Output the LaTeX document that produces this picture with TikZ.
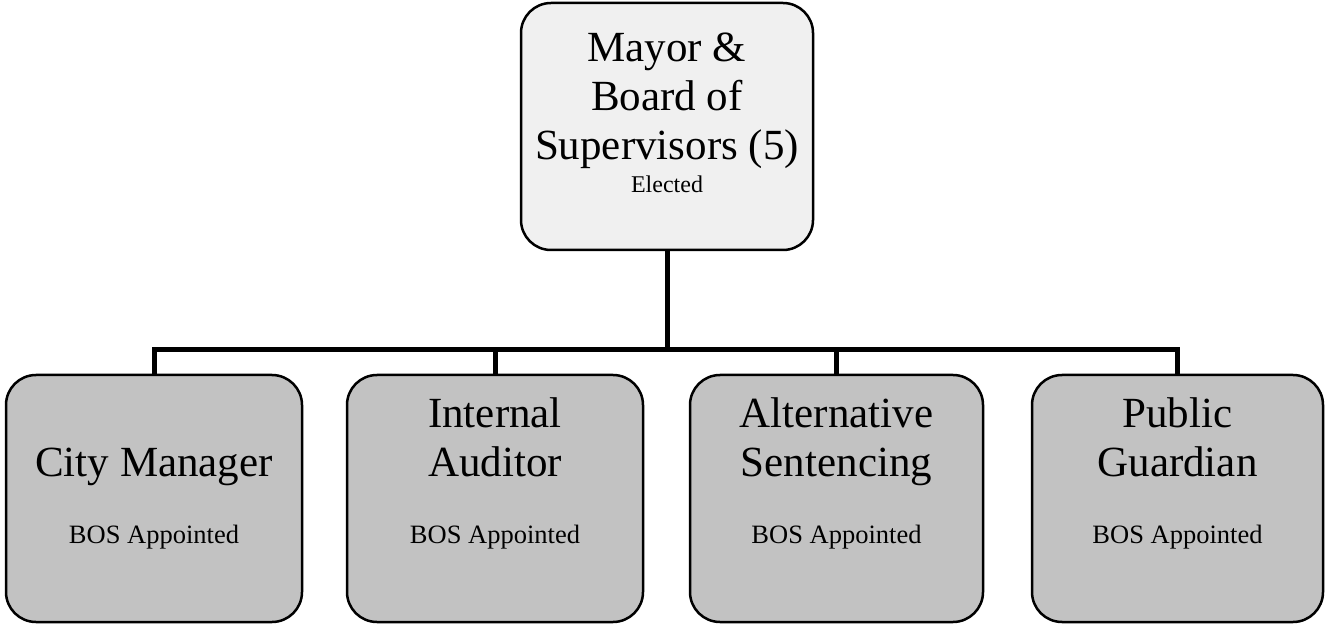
\documentclass[tikz,border=0pt]{standalone}
\usepackage{fontspec}
\setmainfont{Liberation Serif}
\begin{document}
\begin{tikzpicture}[x=1pt,y=1pt,
  orgbox/.style={draw=black, line width=2.5pt, rounded corners=30pt, inner sep=0pt,
                 minimum height=247pt},
  topfill/.style={fill=black!6},
  lowfill/.style={fill=black!24},
  title/.style={inner sep=0pt, anchor=base, font=\fontsize{43}{49}\selectfont},
  note/.style={inner sep=0pt, anchor=base, font=\fontsize{26.5}{30}\selectfont},
  small/.style={inner sep=0pt, anchor=base, font=\fontsize{24}{28}\selectfont},
  link/.style={line width=5pt}]
\useasboundingbox (0,0) rectangle (1327,624);

% boxes
\node[orgbox, topfill, minimum width=292pt] (mayor) at (667,497.5) {};
\node[orgbox, lowfill, minimum width=296pt] (city)  at (154,125.5) {};
\node[orgbox, lowfill, minimum width=296pt] (audit) at (495,125.5) {};
\node[orgbox, lowfill, minimum width=293pt] (alt)   at (836.5,125.5) {};
\node[orgbox, lowfill, minimum width=291pt] (pub)   at (1177.5,125.5) {};

% texts
\node[title] (mayort) at (667,464) {\begin{tabular}[b]{@{}c@{}}Mayor \&\\Board of\\Supervisors (5)\end{tabular}};
\node[small] (mayorn) at (667,431) {Elected};

\node[title] (cityt)  at (154,147) {City Manager};
\node[title] (auditt) at (495,147) {\begin{tabular}[b]{@{}c@{}}Internal\\Auditor\end{tabular}};
\node[title] (altt)   at (836.5,147) {\begin{tabular}[b]{@{}c@{}}Alternative\\Sentencing\end{tabular}};
\node[title] (pubt)   at (1177.5,147) {\begin{tabular}[b]{@{}c@{}}Public\\Guardian\end{tabular}};

\node[note] (cityn)  at (154,81) {BOS Appointed};
\node[note] (auditn) at (495,81) {BOS Appointed};
\node[note] (altn)   at (836.5,81) {BOS Appointed};
\node[note] (pubn)   at (1177.5,81) {BOS Appointed};

% connectors
\coordinate (bus) at (667,274);
\draw[link] (mayor.south) -- (bus);
\draw[link] (city.north) |- (bus) -| (pub.north);
\draw[link] (audit.north) -- (audit.north |- bus);
\draw[link] (alt.north) -- (alt.north |- bus);
\end{tikzpicture}
\end{document}
